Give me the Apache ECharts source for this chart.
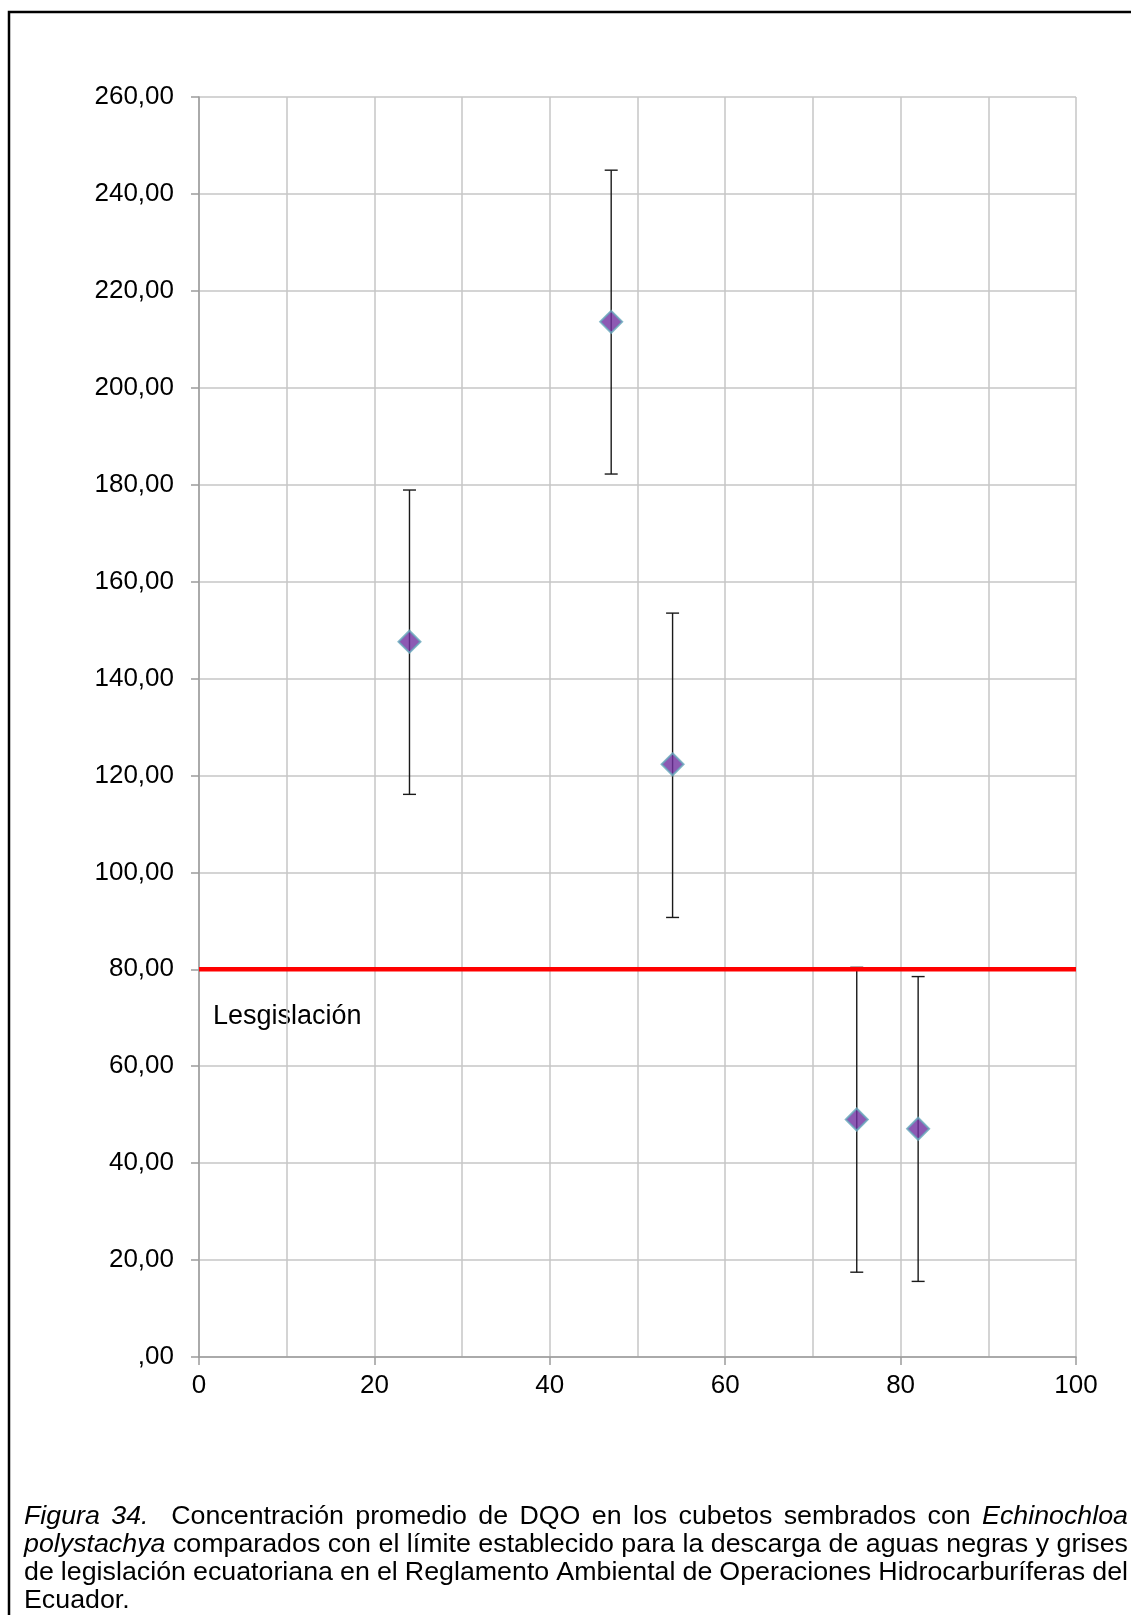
<!DOCTYPE html>
<html>
<head>
<meta charset="utf-8">
<script src="https://cdn.jsdelivr.net/npm/echarts@6/dist/echarts.min.js"></script>
<style>
  html, body { margin: 0; padding: 0; background: #fff; }
  #chart { width: 1131px; height: 1615px; }
</style>
</head>
<body>
<div id="chart"></div>
<script>
// Sampling points (x) and mean DQO with the ends of each error bar
const xValues   = [24, 47, 54, 75, 82];
const dqoMean   = [147.6, 213.6, 122.3, 49.0, 47.1];
const dqoUpper  = [178.9, 244.9, 153.5, 80.4, 78.5];
const dqoLower  = [116.1, 182.2, 90.7, 17.5, 15.6];

// Discharge limit set by the legislation
const legalLimit = 80;
const limitLabel = 'Lesgislación';

// Axis tick labels
const yTickValues = [0, 20, 40, 60, 80, 100, 120, 140, 160, 180, 200, 220, 240, 260];
const yTickLabels = [',00', '20,00', '40,00', '60,00', '80,00', '100,00', '120,00',
                     '140,00', '160,00', '180,00', '200,00', '220,00', '240,00', '260,00'];
const xTickLabels = ['0', '20', '40', '60', '80', '100'];

// Figure caption, one entry per line: [word, italic]
const captionLines = [
  [['Figura', true], ['34.', true], ['', false], ['Concentración', false], ['promedio', false], ['de', false], ['DQO', false],
   ['en', false], ['los', false], ['cubetos', false], ['sembrados', false], ['con', false], ['Echinochloa', true]],
  [['polystachya', true], ['comparados', false], ['con', false], ['el', false], ['límite', false], ['establecido', false],
   ['para', false], ['la', false], ['descarga', false], ['de', false], ['aguas', false], ['negras', false], ['y', false], ['grises', false]],
  [['de', false], ['legislación', false], ['ecuatoriana', false], ['en', false], ['el', false], ['Reglamento', false],
   ['Ambiental', false], ['de', false], ['Operaciones', false], ['Hidrocarburíferas', false], ['del', false]],
  [['Ecuador.', false]]
];

const FONT = '"Liberation Sans", Arial, sans-serif';
const chart = echarts.init(document.getElementById('chart'), null, { renderer: 'canvas' });

// Justified caption built from word-level text elements
function buildCaption() {
  const ctx = document.createElement('canvas').getContext('2d');
  const size = 26, sx = 1.03, left = 24, right = 1128, baseline0 = 1526, lineGap = 28;
  const els = [];
  captionLines.forEach((words, li) => {
    const widths = words.map(([w, it]) => {
      ctx.font = (it ? 'italic ' : '') + size + 'px ' + FONT;
      return w ? ctx.measureText(w).width * sx : 0;
    });
    const last = li === captionLines.length - 1;
    const gaps = words.length - 1;
    const total = widths.reduce((a, b) => a + b, 0);
    ctx.font = size + 'px ' + FONT;
    const space = ctx.measureText(' ').width * sx;
    const gap = (!last && gaps > 0) ? (right - left - total) / gaps : space;
    let x = left;
    const y = baseline0 + li * lineGap - 9;
    words.forEach(([w, it], i) => {
      if (w) {
        els.push({
          type: 'text', x: x, y: y, scaleX: sx, silent: true,
          style: { text: w, fontFamily: FONT, fontSize: size, fontStyle: it ? 'italic' : 'normal',
                   fill: '#000', verticalAlign: 'middle', align: 'left' }
        });
      }
      x += widths[i] + gap;
    });
  });
  return els;
}

const axisGray = '#9c9c9c';
const gridGray = '#c6c6c6';

const option = {
  animation: false,
  backgroundColor: '#fff',
  grid: { left: 199, top: 97, width: 877, height: 1260, containLabel: false },
  xAxis: {
    type: 'value', min: 0, max: 100, interval: 20,
    axisLine: { show: true, onZero: false, lineStyle: { color: axisGray, width: 1.5 } },
    axisTick: { show: true, length: 8, lineStyle: { color: axisGray, width: 1.5 } },
    axisLabel: {
      margin: 16, color: '#000', fontFamily: FONT, fontSize: 26,
      formatter: (v) => xTickLabels[Math.round(v / 20)]
    },
    splitLine: { show: true, lineStyle: { color: gridGray, width: 1.5 } },
    minorTick: { show: false, splitNumber: 2 },
    minorSplitLine: { show: true, lineStyle: { color: gridGray, width: 1.5 } }
  },
  yAxis: {
    type: 'value', min: 0, max: 260, interval: 20,
    axisLine: { show: true, onZero: false, lineStyle: { color: axisGray, width: 1.5 } },
    axisTick: { show: true, length: 8, lineStyle: { color: axisGray, width: 1.5 } },
    axisLabel: {
      margin: 25, color: '#000', fontFamily: FONT, fontSize: 26,
      formatter: (v) => yTickLabels[yTickValues.indexOf(Math.round(v))]
    },
    splitLine: { show: true, lineStyle: { color: gridGray, width: 1.5 } }
  },
  series: [
    {
      name: 'Error',
      type: 'custom',
      z: 3,
      data: xValues.map((x, i) => [x, dqoUpper[i], dqoLower[i]]),
      renderItem: function (params, api) {
        const top = api.coord([api.value(0), api.value(1)]);
        const bot = api.coord([api.value(0), api.value(2)]);
        const cap = 6.5;
        const style = { stroke: '#1a1a1a', lineWidth: 1.4 };
        return {
          type: 'group',
          children: [
            { type: 'line', shape: { x1: top[0], y1: top[1], x2: bot[0], y2: bot[1] }, style: style },
            { type: 'line', shape: { x1: top[0] - cap, y1: top[1], x2: top[0] + cap, y2: top[1] }, style: style },
            { type: 'line', shape: { x1: bot[0] - cap, y1: bot[1], x2: bot[0] + cap, y2: bot[1] }, style: style }
          ]
        };
      }
    },
    {
      name: 'Legislación',
      type: 'line',
      z: 4,
      symbol: 'none',
      data: [[0, legalLimit], [100, legalLimit]],
      lineStyle: { color: '#ff0000', width: 4.5 }
    },
    {
      name: 'DQO',
      type: 'scatter',
      z: 5,
      symbol: 'diamond',
      symbolSize: 22,
      data: xValues.map((x, i) => [x, dqoMean[i]]),
      itemStyle: { color: '#7030a0', borderColor: '#65a6ba', borderWidth: 2 }
    }
  ],
  graphic: [
    {
      type: 'rect', silent: true, z: 100,
      shape: { x: 9, y: 12, width: 1300, height: 1800 },
      style: { fill: 'none', stroke: '#000', lineWidth: 2.5 }
    },
    {
      type: 'text', silent: true, x: 213, y: 1017,
      style: { text: limitLabel, fontFamily: FONT, fontSize: 27, fill: '#000', verticalAlign: 'middle' }
    }
  ].concat(buildCaption())
};

chart.setOption(option);
</script>
</body>
</html>
